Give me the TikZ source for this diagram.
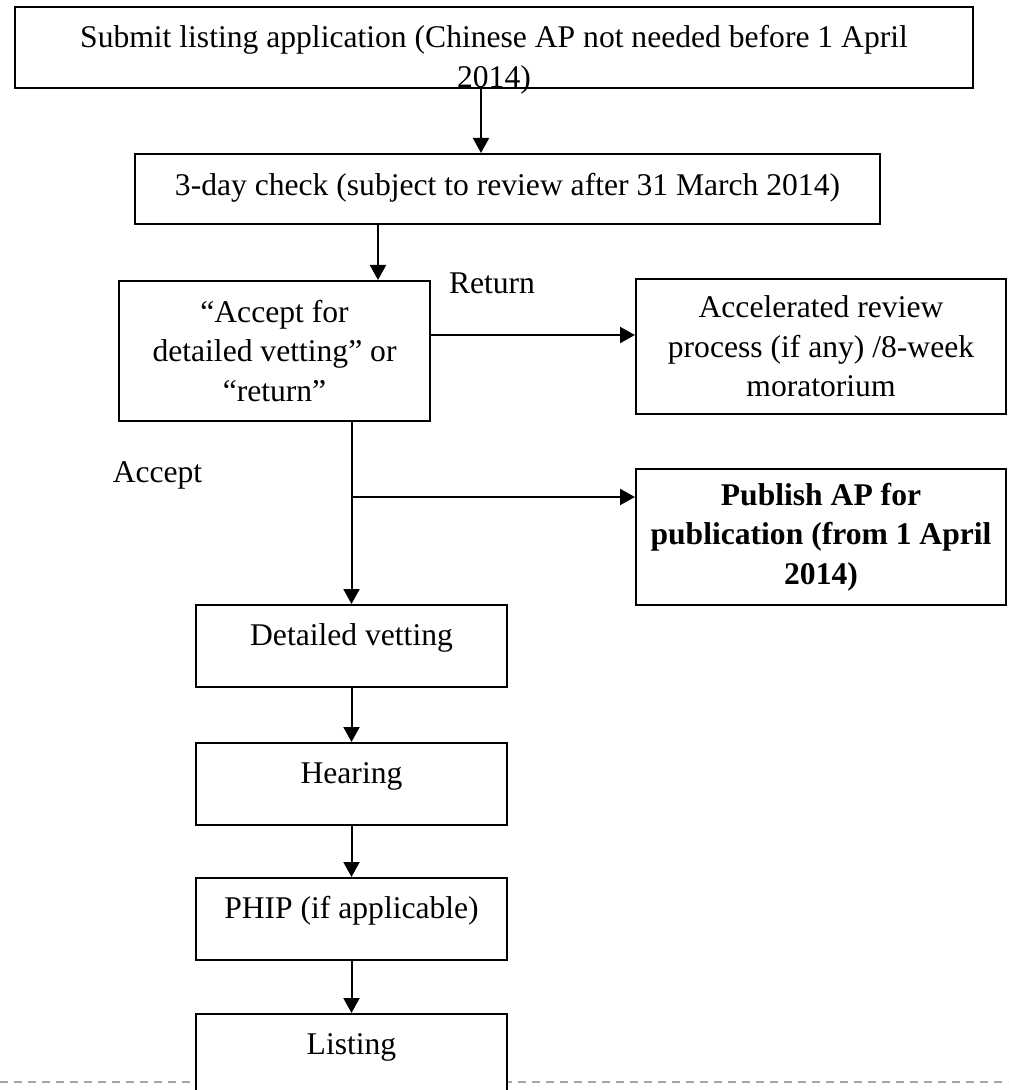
\documentclass[tikz,border=0pt]{standalone}
\usepackage{fontspec}
\setmainfont{Liberation Serif}
\usetikzlibrary{arrows.meta}

\begin{document}
\fontsize{15.8pt}{19.75pt}\selectfont
\begin{tikzpicture}[x=0.5pt,y=-0.5pt,
		procbox/.style={draw, line width=1pt, fill=white, align=center, inner xsep=0pt},
		stagebox/.style={procbox, anchor=north, inner ysep=0pt, minimum width=155.5pt, text height=20pt, text depth=21pt},
		flow/.style={-{Triangle[length=7.5pt,width=8pt]}, line width=1pt}]
		\useasboundingbox (0,0) rectangle (1008,1090);
		\clip (0,0) rectangle (1008,1090);

		\draw[gray!70, line width=1pt, dash pattern=on 4pt off 3pt] (0,1082) -- (1008,1082);

		\node[procbox, minimum width=479pt, minimum height=40.5pt] (submit) at (494,47.5) {};
		\node[anchor=north, inner sep=0pt, align=center] (submittext) at (494,25) {Submit listing application (Chinese AP not needed before 1 April\\2014)};

		\node[procbox, anchor=north, inner ysep=0pt, minimum width=372.5pt, text height=21pt, text depth=14pt] (check) at (507.5,153) {3-day check (subject to review after 31 March 2014)};

		\node[procbox, minimum width=155.5pt, minimum height=70pt] (decide) at (274.5,351) {``Accept for\\detailed vetting'' or\\``return''};
		\node[procbox, minimum width=185pt, minimum height=67.5pt] (review) at (821,346.5) {Accelerated review\\process (if any) /8-week\\moratorium};
		\node[procbox, minimum width=185pt, minimum height=68pt, font=\bfseries] (publish) at (821,537) {Publish AP for\\publication (from 1 April\\2014)};

		\node[stagebox] (vet) at (351.5,604) {Detailed vetting};
		\node[stagebox] (hear) at (351.5,742) {Hearing};
		\node[stagebox] (phip) at (351.5,877) {PHIP (if applicable)};
		\node[stagebox] (listing) at (351.5,1013) {Listing};

		\node[anchor=base] (retlbl) at (492,294) {Return};
		\node[anchor=base] (acclbl) at (157.5,482) {Accept};

		\draw[flow] ([xshift=-6.5pt]submit.south) -- ([xshift=-6.5pt]submit.south |- check.north);
		\draw[flow] ([xshift=51.75pt]decide.north |- check.south) -- ([xshift=51.75pt]decide.north);
		\draw[flow] ([yshift=8pt]decide.east) -- ([yshift=8pt]decide.east -| review.west);
		\draw[flow] (vet.north |- decide.south) -- (vet.north);

		\coordinate (branch) at (351.5,497);
		\draw[flow] (branch) -- (branch -| publish.west);

		\draw[flow] (vet) -- (hear);
		\draw[flow] (hear) -- (phip);
		\draw[flow] (phip) -- (listing);
	\end{tikzpicture}
\end{document}
